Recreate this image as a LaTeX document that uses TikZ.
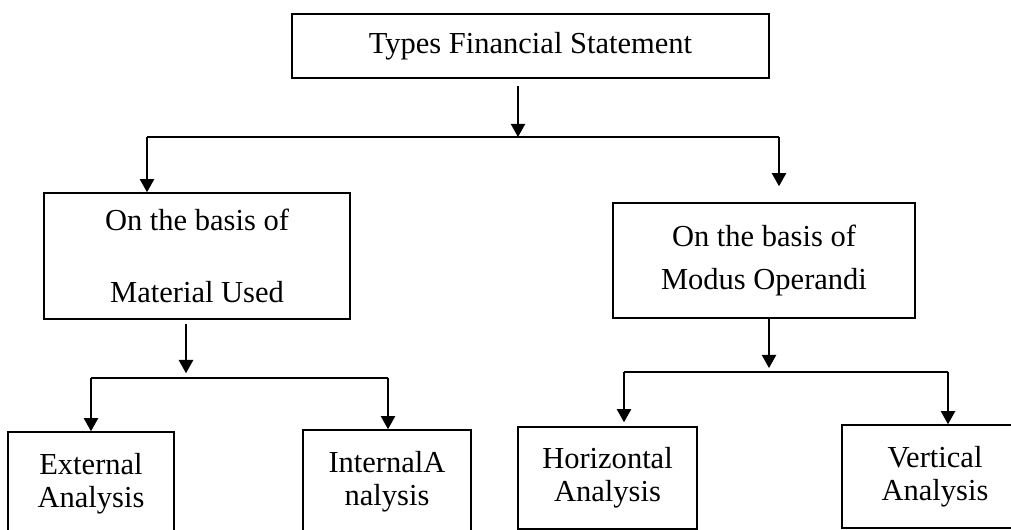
\documentclass[tikz,border=0pt]{standalone}
\usepackage{fontspec}
\setmainfont{Liberation Serif}
\usetikzlibrary{arrows.meta}

\begin{document}
\begin{tikzpicture}[x=0.025cm,y=-0.025cm,line width=1.1pt,
        box/.style={draw,inner sep=0pt,align=center,font=\fontsize{21.7}{23.4}\selectfont},
        arr/.style={-{Triangle[length=0.33cm,width=0.36cm]}}]
        \clip (0,0) rectangle (1011,530);
        \node[box,minimum width=11.925cm,minimum height=1.6cm](top) at (530.5,46) {Types Financial Statement};
        \node[box,minimum width=7.65cm,minimum height=3.15cm](mat) at (197,256) {On the basis of\\[27.6pt]Material Used};
        \node[box,minimum width=7.55cm,minimum height=2.875cm](mod) at (764,260.5) {On the basis of\\[7.8pt]Modus Operandi};
        \node[box,minimum width=4.15cm,minimum height=2.6cm](ext) at (91,484) {External\\Analysis};
        \node[box,minimum width=4.2cm,minimum height=2.6cm](int) at (387,482) {InternalA\\nalysis};
        \node[box,minimum width=4.475cm,minimum height=2.55cm](hor) at (607.5,478) {Horizontal\\Analysis};
        \node[box,minimum width=4.65cm,minimum height=2.575cm](ver) at (935,476.5) {Vertical\\Analysis};
        \coordinate(j1) at (518,137);
        \coordinate(bl) at (147,137);
        \coordinate(br) at (779,137);
        \coordinate(j2) at (186,378);
        \coordinate(b2l) at (91,378);
        \coordinate(b2r) at (388,378);
        \coordinate(j3) at (769,372);
        \coordinate(b3l) at (624,372);
        \coordinate(b3r) at (948,372);
        \draw[arr,shorten <=0.175cm](top.south -| j1)--(j1);
        \draw(bl)--(br);
        \draw[arr](bl)--(mat.north -| bl);
        \draw[arr,shorten >=0.4cm](br)--(mod.north -| br);
        \draw[arr,shorten <=0.1cm,shorten >=0.12cm](mat.south -| j2)--(j2);
        \draw(b2l)--(b2r);
        \draw[arr](b2l)--(ext.north -| b2l);
        \draw[arr](b2r)--(int.north -| b2r);
        \draw[arr,shorten >=0.1cm](mod.south -| j3)--(j3);
        \draw(b3l)--(b3r);
        \draw[arr,shorten >=0.1cm](b3l)--(hor.north -| b3l);
        \draw[arr](b3r)--(ver.north -| b3r);
        \end{tikzpicture}
\end{document}
